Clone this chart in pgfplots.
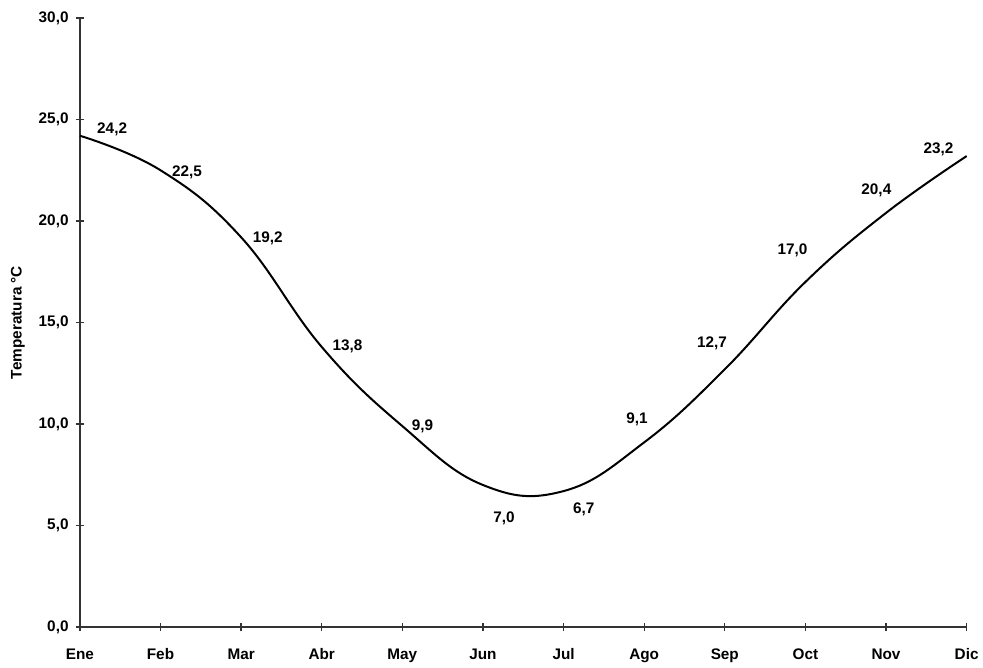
\documentclass[border=0pt]{standalone}
\usepackage{pgfplots}
\pgfplotsset{compat=1.18}
\usepackage{fontspec}
\setmainfont{Liberation Sans}
\begin{document}
\begin{tikzpicture}[x=1pt,y=1pt]
\begin{axis}[
  scale only axis,
  width=666pt, height=457.5pt,
  xmin=0, xmax=11, ymin=0, ymax=30,
  axis lines=left,
  axis line style={-, line width=1.2pt, draw=black!80},
  xtick={0,...,11},
  xticklabels={Ene,Feb,Mar,Abr,May,Jun,Jul,Ago,Sep,Oct,Nov,Dic},
  ytick={0,5,...,30},
  tick align=center,
  major tick length=6pt,
  tick style={line width=1pt, black!80},
  /pgf/number format/assume math mode=true,
  /pgf/number format/.cd, use comma, fixed, fixed zerofill, precision=1, /pgfplots/.cd,
  ticklabel style={font=\bfseries\fontsize{11.5}{13}\selectfont},
  xticklabel style={anchor=base, yshift=-21.5pt},
  yticklabel style={xshift=-2pt},
  ylabel={Temperatura °C},
  ylabel style={font=\bfseries\fontsize{11.5}{13}\selectfont, at={(axis description cs:0,0.5)}, anchor=center, yshift=46.5pt},
  clip=false,
]
\addplot[smooth, tension=0.7, line width=1.5pt, black] coordinates {
(0,24.2) (1,22.5) (2,19.2) (3,13.8) (4,9.9) (5,7.0) (6,6.7) (7,9.1) (8,12.7) (9,17.0) (10,20.4) (11,23.2)};
\begin{scope}[every node/.style={font=\bfseries\fontsize{11.5}{13}\selectfont, inner sep=0pt}]
\node at (axis cs:0.40,24.5) {24,2};
\node at (axis cs:1.33,22.4) {22,5};
\node at (axis cs:2.33,19.13) {19,2};
\node at (axis cs:3.32,13.82) {13,8};
\node at (axis cs:4.25,9.89) {9,9};
\node at (axis cs:5.26,5.36) {7,0};
\node at (axis cs:6.25,5.80) {6,7};
\node at (axis cs:6.91,10.23) {9,1};
\node at (axis cs:7.84,13.97) {12,7};
\node at (axis cs:8.84,18.54) {17,0};
\node at (axis cs:9.88,21.5) {20,4};
\node at (axis cs:10.65,23.51) {23,2};
\end{scope}
\end{axis}
\path (-60pt,-29.25pt) rectangle (677.25pt,471pt);
\end{tikzpicture}
\end{document}
